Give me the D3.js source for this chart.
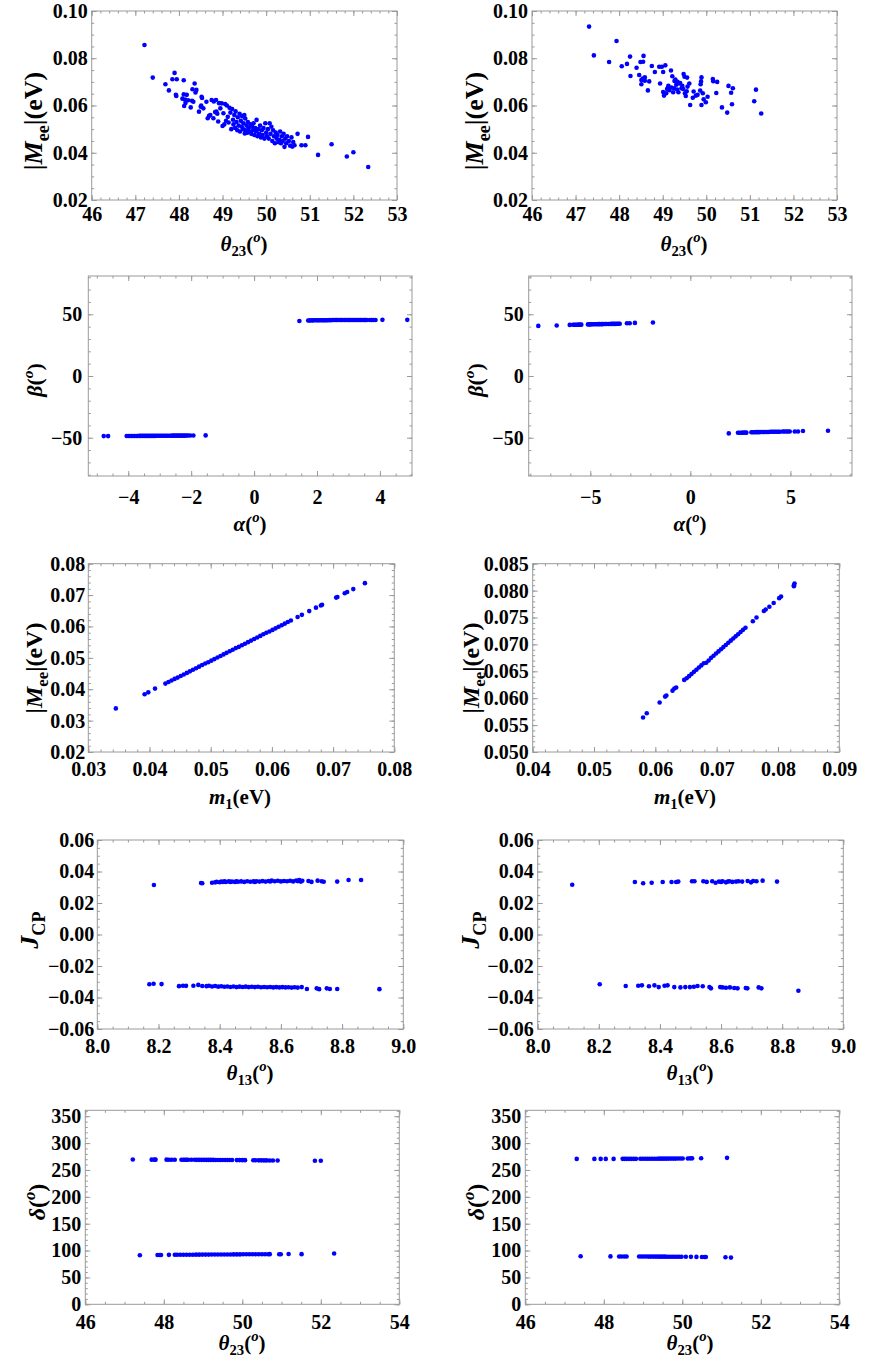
<!DOCTYPE html>
<html><head><meta charset="utf-8">
<script src="https://cdn.jsdelivr.net/npm/d3@7"></script>
<style>
body{margin:0;background:#fff}
svg{display:block}
text{font-family:"Liberation Serif","Times New Roman",serif;font-weight:bold}
</style>
</head><body>
<svg id="c" width="872" height="1360"></svg>
<script>
// ---------------- DATA ----------------
// Panel 1: theta23 vs |Mee| (left)
const p1Points = [[47.21,0.0856],[47.40,0.0718],[47.69,0.0690],[47.77,0.0664],[47.85,0.0711],[47.90,0.0738],[47.95,0.0711],[47.93,0.0645],[47.94,0.0640],
[48.11,0.0707],[48.11,0.0647],[48.08,0.0629],[48.15,0.0611],[48.12,0.0598],[48.18,0.0645],[48.14,0.0625],[48.21,0.0622],
[48.31,0.0669],[48.36,0.0693],[48.40,0.0666],[48.27,0.0592],[48.33,0.0616],[48.30,0.0620],[48.38,0.0655],
[48.46,0.0574],[48.52,0.0637],[48.53,0.0632],[48.50,0.0595],[48.56,0.0588],[48.51,0.0600],[48.63,0.0616],[48.69,0.0556],[48.66,0.0546],[48.72,0.0560],
[48.75,0.0623],[48.85,0.0623],[48.79,0.0546],[48.86,0.0574],[48.90,0.0532],[48.83,0.0572],[48.88,0.0565],[48.80,0.0617],[48.92,0.0610],
[48.98,0.0609],[48.95,0.0588],[49.02,0.0567],[49.00,0.0513],[49.06,0.0606],[49.04,0.0520],[49.08,0.0535],[49.10,0.0600],[49.12,0.0552],[49.14,0.0528],[49.16,0.0590],
[49.18,0.0570],[49.20,0.0500],[49.22,0.0585],[49.24,0.0540],[49.25,0.0520],[49.27,0.0560],[49.29,0.0505],[49.30,0.0575],[49.32,0.0530],[49.34,0.0495],[49.35,0.0550],
[49.37,0.0515],[49.39,0.0565],[49.40,0.0490],[49.42,0.0535],[49.44,0.0510],[49.45,0.0555],[49.47,0.0500],[49.48,0.0525],[49.50,0.0560],[49.51,0.0482],[49.52,0.0545],[49.53,0.0495],
[49.55,0.0515],[49.57,0.0485],[49.58,0.0530],[49.60,0.0505],[49.62,0.0490],[49.64,0.0520],[49.66,0.0480],[49.68,0.0510],[49.70,0.0495],[49.71,0.0525],[49.73,0.0475],[49.75,0.0505],
[49.78,0.0539],[49.77,0.0490],[49.80,0.0470],[49.82,0.0500],[49.84,0.0480],[49.86,0.0515],[49.88,0.0465],[49.90,0.0495],[49.92,0.0475],[49.94,0.0505],[49.96,0.0460],[49.98,0.0525],
[50.00,0.0485],[50.02,0.0470],[50.04,0.0500],[50.06,0.0460],[50.08,0.0525],[50.10,0.0480],[50.12,0.0510],[50.14,0.0450],[50.16,0.0495],[50.18,0.0470],[50.20,0.0440],[50.22,0.0485],
[50.24,0.0460],[50.26,0.0475],[50.28,0.0445],[50.30,0.0455],[50.32,0.0490],[50.34,0.0440],[50.36,0.0470],[50.38,0.0450],[50.40,0.0480],[50.42,0.0425],[50.44,0.0460],[50.46,0.0440],
[50.48,0.0470],[50.52,0.0450],[50.55,0.0430],[50.58,0.0465],[50.60,0.0426],[50.62,0.0445],[50.65,0.0432],[50.72,0.0480],[50.81,0.0432],[50.90,0.0432],[50.96,0.0467],
[51.19,0.0391],[51.50,0.0436],[51.85,0.0384],[52.00,0.0402],[52.34,0.0340]];

// Panel 2: theta23 vs |Mee| (right)
const p2Points = [[47.31,0.0934],[47.42,0.0812],[47.77,0.0784],[47.94,0.0873],[48.06,0.0766],[48.18,0.0776],[48.25,0.0807],[48.26,0.0725],[48.40,0.0760],[48.46,0.0729],
[48.49,0.0784],[48.51,0.0708],[48.51,0.0690],[48.55,0.0785],[48.56,0.0810],[48.54,0.0714],[48.59,0.0719],[48.59,0.0705],[48.69,0.0702],[48.66,0.0664],
[48.75,0.0767],[48.82,0.0742],[48.94,0.0693],[48.92,0.0764],[48.98,0.0764],[49.01,0.0742],[49.06,0.0770],[49.01,0.0657],[49.03,0.0642],[49.08,0.0652],
[49.10,0.0670],[49.13,0.0683],[49.20,0.0676],[49.19,0.0748],[49.22,0.0724],[49.24,0.0656],[49.26,0.0673],[49.27,0.0704],[49.31,0.0688],[49.34,0.0700],
[49.36,0.0656],[49.38,0.0693],[49.43,0.0673],[49.45,0.0683],[49.48,0.0733],[49.50,0.0722],[49.51,0.0652],[49.53,0.0640],[49.56,0.0718],[49.57,0.0680],
[49.61,0.0693],[49.63,0.0602],[49.69,0.0633],[49.71,0.0659],[49.76,0.0642],[49.80,0.0645],[49.86,0.0663],[49.88,0.0702],[49.89,0.0719],[49.87,0.0690],
[49.89,0.0602],[49.92,0.0652],[49.94,0.0626],[49.99,0.0614],[50.03,0.0637],[50.15,0.0712],[50.16,0.0703],[50.25,0.0700],[50.23,0.0653],[50.36,0.0592],
[50.48,0.0570],[50.51,0.0683],[50.57,0.0654],[50.61,0.0673],[50.59,0.0605],[51.10,0.0618],[51.14,0.0667],[51.26,0.0566],
[49.15,0.0665],[49.29,0.0710],[49.40,0.0695],[49.47,0.0670],[49.55,0.0660],[49.12,0.0675],[49.33,0.0668]];

// Panel 3: alpha vs beta (left)
const p3Points = [[1.44,44.6],[1.72,45.0],[1.76,45.0],[1.80,45.1],[1.85,45.0],[1.88,45.1],[1.93,45.1],[1.98,45.1],[2.02,45.1],[2.06,45.2],[2.10,45.1],[2.15,45.2],
[2.19,45.2],[2.23,45.2],[2.27,45.2],[2.31,45.2],[2.36,45.2],[2.40,45.3],[2.44,45.2],[2.48,45.3],[2.53,45.3],[2.57,45.3],[2.61,45.3],[2.65,45.3],[2.70,45.3],
[2.74,45.3],[2.78,45.3],[2.82,45.3],[2.87,45.3],[2.91,45.4],[2.95,45.3],[3.00,45.4],[3.04,45.4],[3.08,45.4],[3.12,45.4],[3.17,45.4],[3.21,45.4],[3.25,45.4],
[3.30,45.4],[3.34,45.4],[3.38,45.4],[3.42,45.4],[3.47,45.4],[3.51,45.4],[3.55,45.4],[3.58,45.4],[3.68,45.4],[3.74,45.4],[3.79,45.4],[3.86,45.4],[4.08,45.5],[4.87,45.5],
[-4.78,-48.7],[-4.64,-48.7],[-4.05,-48.6],[-4.00,-48.6],[-3.95,-48.6],[-3.90,-48.6],[-3.85,-48.6],[-3.80,-48.6],[-3.75,-48.6],[-3.70,-48.6],[-3.65,-48.5],
[-3.60,-48.5],[-3.55,-48.5],[-3.50,-48.5],[-3.45,-48.5],[-3.40,-48.5],[-3.35,-48.5],[-3.30,-48.5],[-3.25,-48.5],[-3.20,-48.5],[-3.15,-48.5],[-3.10,-48.4],
[-3.05,-48.4],[-3.00,-48.4],[-2.95,-48.4],[-2.90,-48.4],[-2.85,-48.4],[-2.80,-48.4],[-2.75,-48.4],[-2.70,-48.4],[-2.65,-48.4],[-2.60,-48.3],[-2.55,-48.3],
[-2.50,-48.3],[-2.45,-48.3],[-2.40,-48.3],[-2.35,-48.3],[-2.30,-48.3],[-2.25,-48.3],[-2.20,-48.3],[-2.15,-48.2],[-2.10,-48.2],[-2.03,-48.2],[-1.93,-48.2],[-1.54,-48.1]];

// Panel 4: alpha vs beta (right)
const p4Points = [[-7.60,40.6],[-6.68,40.9],[-6.03,41.4],[-5.87,41.5],[-5.80,41.5],[-5.74,41.5],[-5.67,41.5],[-5.60,41.6],[-5.52,41.6],[-5.45,41.6],
[-5.12,41.8],[-5.05,41.8],[-4.98,41.8],[-4.90,41.9],[-4.83,41.9],[-4.76,41.9],[-4.68,41.9],[-4.61,42.0],[-4.54,42.0],[-4.46,42.0],[-4.39,42.0],[-4.31,42.1],
[-4.24,42.1],[-4.17,42.1],[-4.09,42.1],[-4.02,42.1],[-3.95,42.2],[-3.87,42.2],[-3.80,42.2],[-3.72,42.2],[-3.65,42.3],[-3.58,42.3],[-3.53,42.3],
[-3.17,42.7],[-3.03,42.7],[-2.77,43.0],[-1.87,43.3],
[1.92,-46.5],[2.38,-46.0],[2.46,-46.0],[2.55,-46.0],[2.63,-45.9],[2.72,-45.9],[2.80,-45.9],[3.05,-45.6],[3.12,-45.6],[3.20,-45.6],[3.28,-45.5],[3.36,-45.5],
[3.44,-45.5],[3.52,-45.4],[3.60,-45.4],[3.68,-45.4],[3.76,-45.3],[3.84,-45.3],[3.92,-45.3],[4.00,-45.2],[4.08,-45.2],[4.16,-45.2],[4.24,-45.2],[4.32,-45.1],
[4.40,-45.1],[4.48,-45.1],[4.62,-45.0],[4.70,-45.0],[4.80,-45.0],[4.88,-45.0],[4.97,-44.9],[5.22,-44.9],[5.38,-44.9],[5.63,-44.6],[6.88,-44.4]];

// Panel 5: m1 vs |Mee| (left)
const p5Points = [[0.0345,0.0339],[0.0392,0.0384],[0.0398,0.0390],[0.0409,0.0402],
[0.0426,0.0418],[0.0431,0.0423],[0.0436,0.0428],[0.0441,0.0433],[0.0446,0.0437],[0.0451,0.0442],[0.0456,0.0447],[0.0461,0.0452],[0.0466,0.0457],
[0.0471,0.0462],[0.0476,0.0467],[0.0481,0.0472],[0.0486,0.0477],[0.0491,0.0482],[0.0496,0.0486],[0.0501,0.0491],[0.0506,0.0496],[0.0511,0.0501],
[0.0516,0.0506],[0.0521,0.0511],[0.0526,0.0516],[0.0531,0.0521],[0.0536,0.0526],[0.0541,0.0531],[0.0546,0.0535],[0.0551,0.0540],[0.0556,0.0545],
[0.0561,0.0550],[0.0566,0.0555],[0.0571,0.0560],[0.0576,0.0565],[0.0581,0.0570],[0.0586,0.0575],[0.0591,0.0580],[0.0596,0.0584],[0.0601,0.0589],
[0.0606,0.0594],[0.0611,0.0599],[0.0616,0.0604],[0.0621,0.0609],[0.0626,0.0614],[0.0631,0.0619],
[0.0642,0.0630],[0.0649,0.0637],[0.0661,0.0649],[0.0672,0.0660],[0.0680,0.0667],[0.0682,0.0669],[0.0705,0.0692],[0.0707,0.0694],
[0.0719,0.0706],[0.0723,0.0710],[0.0733,0.0719],[0.0752,0.0738]];

// Panel 6: m1 vs |Mee| (right)
const p6Points = [[0.0580,0.0564],[0.0586,0.0572],[0.0607,0.0592],[0.0616,0.0603],[0.0618,0.0605],[0.0628,0.0614],[0.0631,0.0618],[0.0634,0.0620],
[0.0647,0.0634],[0.0651,0.0637],[0.0655,0.0641],[0.0659,0.0645],[0.0663,0.0649],[0.0667,0.0653],[0.0671,0.0657],[0.0675,0.0661],[0.0679,0.0665],
[0.0683,0.0666],[0.0687,0.0670],[0.0691,0.0675],[0.0695,0.0679],[0.0699,0.0683],[0.0703,0.0687],[0.0707,0.0691],[0.0711,0.0695],[0.0715,0.0699],
[0.0719,0.0703],[0.0723,0.0707],[0.0727,0.0711],[0.0731,0.0715],[0.0735,0.0719],[0.0739,0.0723],[0.0743,0.0727],[0.0747,0.0731],
[0.0759,0.0743],[0.0765,0.0750],[0.0777,0.0762],[0.0780,0.0765],[0.0786,0.0770],[0.0793,0.0777],[0.0802,0.0786],[0.0805,0.0789],
[0.0826,0.0810],[0.0827,0.0813],[0.0826,0.0808]];

// Panel 7: theta13 vs Jcp (left)
const p7Points = [[8.185,0.0314],[8.339,0.0327],[8.343,0.0325],[8.375,0.0329],[8.385,0.0331],[8.390,0.0334],[8.400,0.0332],[8.405,0.0336],[8.410,0.0333],
[8.415,0.0338],[8.420,0.0334],[8.430,0.0337],[8.435,0.0333],[8.440,0.0336],[8.450,0.0334],[8.455,0.0338],[8.460,0.0335],[8.470,0.0337],[8.480,0.0334],
[8.490,0.0338],[8.500,0.0335],[8.510,0.0337],[8.515,0.0334],[8.520,0.0338],[8.530,0.0336],[8.540,0.0339],[8.550,0.0336],[8.560,0.0340],[8.565,0.0337],
[8.570,0.0342],[8.580,0.0338],[8.590,0.0341],[8.600,0.0337],[8.610,0.0340],[8.620,0.0338],[8.630,0.0341],[8.640,0.0337],[8.650,0.0343],[8.655,0.0339],
[8.660,0.0345],[8.665,0.0336],[8.670,0.0341],[8.690,0.0340],[8.700,0.0334],[8.720,0.0342],[8.733,0.0338],[8.740,0.0335],[8.784,0.0336],[8.821,0.0346],[8.862,0.0346],
[8.170,-0.0316],[8.184,-0.0313],[8.210,-0.0315],[8.267,-0.0328],[8.280,-0.0325],[8.290,-0.0326],[8.314,-0.0325],[8.330,-0.0320],[8.343,-0.0327],
[8.357,-0.0328],[8.365,-0.0325],[8.375,-0.0330],[8.385,-0.0327],[8.395,-0.0331],[8.405,-0.0329],[8.415,-0.0332],[8.425,-0.0330],[8.435,-0.0333],
[8.445,-0.0330],[8.455,-0.0334],[8.465,-0.0331],[8.475,-0.0333],[8.485,-0.0331],[8.495,-0.0334],[8.505,-0.0332],[8.515,-0.0334],[8.525,-0.0332],
[8.535,-0.0335],[8.545,-0.0333],[8.555,-0.0335],[8.565,-0.0333],[8.575,-0.0336],[8.585,-0.0334],[8.595,-0.0336],[8.605,-0.0334],[8.615,-0.0336],
[8.625,-0.0335],[8.635,-0.0337],[8.645,-0.0335],[8.655,-0.0337],[8.668,-0.0334],[8.685,-0.0346],[8.717,-0.0342],[8.725,-0.0347],[8.750,-0.0342],
[8.760,-0.0346],[8.784,-0.0346],[8.922,-0.0347]];

// Panel 8: theta13 vs Jcp (right)
const p8Points = [[8.113,0.0316],[8.318,0.0333],[8.345,0.0325],[8.373,0.0329],[8.409,0.0333],[8.438,0.0333],[8.453,0.0333],[8.460,0.0336],[8.505,0.0338],
[8.513,0.0338],[8.542,0.0338],[8.553,0.0334],[8.571,0.0338],[8.582,0.0329],[8.593,0.0336],[8.600,0.0334],[8.605,0.0338],[8.616,0.0331],[8.622,0.0336],
[8.627,0.0338],[8.637,0.0334],[8.649,0.0336],[8.657,0.0338],[8.669,0.0336],[8.687,0.0340],[8.698,0.0331],[8.705,0.0340],[8.716,0.0338],[8.736,0.0342],[8.783,0.0336],
[8.203,-0.0316],[8.288,-0.0327],[8.329,-0.0325],[8.341,-0.0323],[8.364,-0.0329],[8.382,-0.0323],[8.396,-0.0334],[8.415,-0.0325],[8.425,-0.0323],
[8.447,-0.0334],[8.467,-0.0336],[8.483,-0.0334],[8.498,-0.0334],[8.511,-0.0332],[8.523,-0.0327],[8.540,-0.0329],[8.562,-0.0334],[8.567,-0.0342],
[8.597,-0.0334],[8.605,-0.0336],[8.616,-0.0338],[8.629,-0.0336],[8.643,-0.0340],[8.654,-0.0342],[8.681,-0.0340],[8.686,-0.0342],[8.723,-0.0336],
[8.732,-0.0342],[8.853,-0.0357]];

// Panel 9: theta23 vs delta (left)
const p9Points = [[47.21,269.5],[47.69,269.2],[47.76,269.2],[47.79,269.2],[48.07,269.2],[48.13,269.1],[48.20,269.1],[48.28,269.1],[48.45,269.0],
[48.50,269.0],[48.54,269.0],[48.58,269.0],[48.62,268.9],[48.70,268.9],[48.78,268.9],[48.84,268.8],[48.90,268.8],[48.96,268.8],[49.02,268.8],
[49.08,268.7],[49.14,268.7],[49.20,268.7],[49.26,268.7],[49.32,268.6],[49.38,268.6],[49.44,268.6],[49.50,268.5],[49.56,268.5],[49.62,268.5],
[49.68,268.4],[49.74,268.4],[49.86,268.3],[49.93,268.3],[50.00,268.2],[50.07,268.2],[50.28,268.0],[50.34,268.0],[50.42,267.9],[50.48,267.9],
[50.55,267.8],[50.62,267.8],[50.70,267.7],[50.78,267.6],[50.90,267.5],[51.85,267.0],[52.00,267.0],
[47.39,91.2],[47.84,91.8],[47.90,91.8],[47.93,91.8],[48.13,92.0],[48.28,92.1],[48.34,92.1],[48.42,92.2],[48.50,92.2],[48.58,92.3],[48.66,92.3],
[48.74,92.3],[48.82,92.4],[48.90,92.4],[48.98,92.5],[49.06,92.5],[49.14,92.5],[49.22,92.6],[49.30,92.6],[49.38,92.7],[49.46,92.7],[49.54,92.7],
[49.62,92.8],[49.70,92.8],[49.78,92.9],[49.86,92.9],[49.94,92.9],[50.02,93.0],[50.10,93.0],[50.18,93.0],[50.26,93.1],[50.34,93.1],[50.42,93.1],
[50.50,93.2],[50.58,93.2],[50.66,93.2],[50.70,93.3],[50.94,93.1],[50.98,93.1],[51.18,93.5],[51.51,93.3],[52.34,94.5]];

// Panel 10: theta23 vs delta (right)
const p10Points = [[47.31,270.6],[47.76,270.6],[47.92,270.6],[48.05,270.6],[48.25,270.6],[48.48,270.7],[48.53,270.7],[48.58,270.7],[48.64,270.7],
[48.70,270.7],[48.76,270.7],[48.82,270.7],[48.93,270.8],[48.99,270.8],[49.05,270.8],[49.11,270.8],[49.17,270.9],[49.23,270.9],[49.29,270.9],
[49.35,270.9],[49.41,271.0],[49.47,271.0],[49.53,271.0],[49.59,271.0],[49.65,271.1],[49.71,271.1],[49.77,271.1],[49.83,271.1],[49.89,271.2],
[49.95,271.2],[50.01,271.2],[50.14,271.4],[50.20,271.6],[50.25,271.6],[50.48,271.8],[51.14,272.5],
[47.41,89.4],[48.17,89.1],[48.39,89.0],[48.45,89.0],[48.52,89.0],[48.58,89.0],[48.90,88.9],[48.96,88.9],[49.02,88.9],[49.08,88.9],[49.14,88.8],
[49.20,88.8],[49.26,88.8],[49.32,88.8],[49.38,88.7],[49.44,88.7],[49.50,88.7],[49.56,88.7],[49.62,88.6],[49.68,88.6],[49.74,88.6],[49.80,88.6],
[49.86,88.5],[49.92,88.5],[49.98,88.5],[50.09,88.4],[50.22,88.3],[50.36,88.2],[50.50,88.1],[50.57,88.0],[50.60,88.0],[51.10,87.5],[51.24,86.9]];

// Tick values and labels
const tTheta23aTicks = [46,47,48,49,50,51,52,53];
const tTheta23aLabels = ["46","47","48","49","50","51","52","53"];
const tMeeATicks = [0.02,0.04,0.06,0.08,0.10];
const tMeeALabels = ["0.02","0.04","0.06","0.08","0.10"];
const tAlphaLTicks = [-4,-2,0,2,4];
const tAlphaLLabels = ["\u22124","\u22122","0","2","4"];
const tAlphaRTicks = [-5,0,5];
const tAlphaRLabels = ["\u22125","0","5"];
const tBetaTicks = [-50,0,50];
const tBetaLabels = ["\u221250","0","50"];
const tM1LTicks = [0.03,0.04,0.05,0.06,0.07,0.08];
const tM1LLabels = ["0.03","0.04","0.05","0.06","0.07","0.08"];
const tMeeLTicks = [0.02,0.03,0.04,0.05,0.06,0.07,0.08];
const tMeeLLabels = ["0.02","0.03","0.04","0.05","0.06","0.07","0.08"];
const tM1RTicks = [0.04,0.05,0.06,0.07,0.08,0.09];
const tM1RLabels = ["0.04","0.05","0.06","0.07","0.08","0.09"];
const tMeeRTicks = [0.050,0.055,0.060,0.065,0.070,0.075,0.080,0.085];
const tMeeRLabels = ["0.050","0.055","0.060","0.065","0.070","0.075","0.080","0.085"];
const tTheta13Ticks = [8.0,8.2,8.4,8.6,8.8,9.0];
const tTheta13Labels = ["8.0","8.2","8.4","8.6","8.8","9.0"];
const tJcpTicks = [-0.06,-0.04,-0.02,0,0.02,0.04,0.06];
const tJcpLabels = ["\u22120.06","\u22120.04","\u22120.02","0.00","0.02","0.04","0.06"];
const tTheta23bTicks = [46,48,50,52,54];
const tTheta23bLabels = ["46","48","50","52","54"];
const tDeltaTicks = [0,50,100,150,200,250,300,350];
const tDeltaLabels = ["0","50","100","150","200","250","300","350"];

// Axis titles (rich text segments)
const lMee = [{t:"|"},{t:"M",i:1},{t:"ee",s:"sub"},{t:"|(eV)"}];
const lTh23 = [{t:"\u03B8",i:1},{t:"23",s:"sub"},{t:"("},{t:"o",s:"sup",i:1},{t:")"}];
const lTh13 = [{t:"\u03B8",i:1},{t:"13",s:"sub"},{t:"("},{t:"o",s:"sup",i:1},{t:")"}];
const lAlpha = [{t:"\u03B1",i:1},{t:"("},{t:"o",s:"sup",i:1},{t:")"}];
const lBeta = [{t:"\u03B2",i:1},{t:"("},{t:"o",s:"sup",i:1},{t:")"}];
const lDelta = [{t:"\u03B4",i:1},{t:"("},{t:"o",s:"sup",i:1},{t:")"}];
const lM1 = [{t:"m",i:1},{t:"1",s:"sub"},{t:"(eV)"}];
const lJcp = [{t:"J",i:1},{t:"CP",s:"sub"}];

// ---------------- LAYOUT ----------------
const panels = [
 {pts:p1Points, l:91.7,r:397,t:11,b:200, xd:[46,53], yd:[0.02,0.10], xt:tTheta23aTicks, xl:tTheta23aLabels, xm:0.2, yt:tMeeATicks, yl:tMeeALabels, ym:0.005, xpad:7, ypad:4, xlab:lTh23, ylab:lMee, ylf:26, xlx:244, xly:251, ylx:34, yly:121},
 {pts:p2Points, l:532,r:837,t:11,b:200, xd:[46,53], yd:[0.02,0.10], xt:tTheta23aTicks, xl:tTheta23aLabels, xm:0.2, yt:tMeeATicks, yl:tMeeALabels, ym:0.005, xpad:7, ypad:4, xlab:lTh23, ylab:lMee, ylf:26, xlx:684, xly:251, ylx:475, yly:121},
 {pts:p3Points, l:88.3,r:412,t:276,b:476, xd:[-5.27,5.02], yd:[-81,81], xt:tAlphaLTicks, xl:tAlphaLLabels, xm:0.5, yt:tBetaTicks, yl:tBetaLabels, ym:10, xpad:14, ypad:6, xlab:lAlpha, ylab:lBeta, ylf:22, xlx:250, xly:531, ylx:35, yly:380},
 {pts:p4Points, l:528.7,r:852,t:276,b:476, xd:[-8.08,8.08], yd:[-81,81], xt:tAlphaRTicks, xl:tAlphaRLabels, xm:1, yt:tBetaTicks, yl:tBetaLabels, ym:10, xpad:14, ypad:5, xlab:lAlpha, ylab:lBeta, ylf:22, xlx:690, xly:531, ylx:476, yly:380},
 {pts:p5Points, l:88.3,r:394.3,t:563.7,b:752, xd:[0.03,0.08], yd:[0.02,0.08], xt:tM1LTicks, xl:tM1LLabels, xm:0.002, yt:tMeeLTicks, yl:tMeeLLabels, ym:0.002, xpad:9.5, ypad:3, xlab:lM1, ylab:lMee, ylf:24, xlx:240, xly:804, ylx:34, yly:668},
 {pts:p6Points, l:532.7,r:839.3,t:563.7,b:752, xd:[0.04,0.09], yd:[0.050,0.085], xt:tM1RTicks, xl:tM1RLabels, xm:0.002, yt:tMeeRTicks, yl:tMeeRLabels, ym:0.001, xpad:9.5, ypad:4, xlab:lM1, ylab:lMee, ylf:24, xlx:685, xly:804, ylx:471, yly:668},
 {pts:p7Points, l:97.3,r:403.3,t:840,b:1029, xd:[8.0,9.0], yd:[-0.06,0.06], xt:tTheta13Ticks, xl:tTheta13Labels, xm:0.05, yt:tJcpTicks, yl:tJcpLabels, ym:0.005, xpad:9.5, ypad:3, xlab:lTh13, ylab:lJcp, ylf:26, xlx:250, xly:1080, ylx:30, yly:930},
 {pts:p8Points, l:537.7,r:843.3,t:840,b:1029, xd:[8.0,9.0], yd:[-0.06,0.06], xt:tTheta13Ticks, xl:tTheta13Labels, xm:0.05, yt:tJcpTicks, yl:tJcpLabels, ym:0.005, xpad:9.5, ypad:4, xlab:lTh13, ylab:lJcp, ylf:26, xlx:690, xly:1080, ylx:471, yly:930},
 {pts:p9Points, l:85.3,r:399.3,t:1110.3,b:1304.3, xd:[46,54], yd:[0,361], xt:tTheta23bTicks, xl:tTheta23bLabels, xm:0.5, yt:tDeltaTicks, yl:tDeltaLabels, ym:10, xpad:11, ypad:4, xlab:lTh23, ylab:lDelta, ylf:24, xlx:242, xly:1350, ylx:37, yly:1202},
 {pts:p10Points, l:525.3,r:839.3,t:1110.3,b:1304.3, xd:[46,54], yd:[0,361], xt:tTheta23bTicks, xl:tTheta23bLabels, xm:0.5, yt:tDeltaTicks, yl:tDeltaLabels, ym:10, xpad:11, ypad:4, xlab:lTh23, ylab:lDelta, ylf:24, xlx:690, xly:1350, ylx:476, yly:1202}
];

const svg = d3.select("#c");
svg.append("rect").attr("width",872).attr("height",1360).attr("fill","#fff");
const FRAME = "#9a9a9a";
const TICKF = 20, LABF = 21;

function minorVals(dom, step){
  const lo = Math.min(dom[0],dom[1]), hi = Math.max(dom[0],dom[1]);
  const out = [];
  for (let k = Math.ceil(lo/step - 1e-6); k*step <= hi + 1e-9; k++) out.push(+(k*step).toFixed(8));
  return out;
}

function rich(sel, segs, size){
  let shift = 0;
  segs.forEach(s => {
    const target = s.s === "sub" ? size*0.25 : s.s === "sup" ? -size*0.42 : 0;
    const ts = sel.append("tspan").text(s.t).attr("dy", (target - shift).toFixed(2));
    shift = target;
    if (s.s) ts.attr("font-size", (size*0.7).toFixed(1));
    if (s.i) ts.attr("font-style","italic");
  });
}

function styleAxis(g, showText){
  g.select(".domain").remove();
  g.selectAll("line").attr("stroke", FRAME).attr("stroke-width", 1);
  g.attr("font-size", TICKF).attr("font-family", '"Liberation Serif","Times New Roman",serif').attr("font-weight","bold");
  g.selectAll("text").attr("fill", "#000");
  if (!showText) g.selectAll("text").remove();
}

panels.forEach(p => {
  const x = d3.scaleLinear().domain(p.xd).range([p.l, p.r]);
  const y = d3.scaleLinear().domain(p.yd).range([p.b, p.t]);
  const g = svg.append("g");

  // points
  g.append("g").selectAll("circle").data(p.pts).join("circle")
    .attr("cx", d => x(d[0])).attr("cy", d => y(d[1])).attr("r", 2.3).attr("fill", "#0000ff");

  const xMin = minorVals(p.xd, p.xm), yMin = minorVals(p.yd, p.ym);
  // bottom
  g.append("g").attr("transform",`translate(0,${p.b})`)
    .call(d3.axisBottom(x).tickValues(xMin).tickSize(-2.5).tickSizeOuter(0).tickFormat(""))
    .call(a => styleAxis(a,false));
  g.append("g").attr("transform",`translate(0,${p.b})`)
    .call(d3.axisBottom(x).tickValues(p.xt).tickSize(-5).tickSizeOuter(0).tickPadding(p.xpad).tickFormat((d,i)=>p.xl[i]))
    .call(a => styleAxis(a,true));
  // top
  g.append("g").attr("transform",`translate(0,${p.t})`)
    .call(d3.axisTop(x).tickValues(xMin).tickSize(-2.5).tickSizeOuter(0).tickFormat(""))
    .call(a => styleAxis(a,false));
  g.append("g").attr("transform",`translate(0,${p.t})`)
    .call(d3.axisTop(x).tickValues(p.xt).tickSize(-5).tickSizeOuter(0).tickFormat(""))
    .call(a => styleAxis(a,false));
  // left
  g.append("g").attr("transform",`translate(${p.l},0)`)
    .call(d3.axisLeft(y).tickValues(yMin).tickSize(-2.5).tickSizeOuter(0).tickFormat(""))
    .call(a => styleAxis(a,false));
  g.append("g").attr("transform",`translate(${p.l},0)`)
    .call(d3.axisLeft(y).tickValues(p.yt).tickSize(-5).tickSizeOuter(0).tickPadding(p.ypad).tickFormat((d,i)=>p.yl[i]))
    .call(a => styleAxis(a,true));
  // right
  g.append("g").attr("transform",`translate(${p.r},0)`)
    .call(d3.axisRight(y).tickValues(yMin).tickSize(-2.5).tickSizeOuter(0).tickFormat(""))
    .call(a => styleAxis(a,false));
  g.append("g").attr("transform",`translate(${p.r},0)`)
    .call(d3.axisRight(y).tickValues(p.yt).tickSize(-5).tickSizeOuter(0).tickFormat(""))
    .call(a => styleAxis(a,false));

  // frame
  g.append("rect").attr("x",p.l).attr("y",p.t).attr("width",p.r-p.l).attr("height",p.b-p.t)
    .attr("fill","none").attr("stroke",FRAME).attr("stroke-width",1);

  // axis titles (xly = baseline)
  const xt = g.append("text").attr("x",p.xlx).attr("y",p.xly).attr("text-anchor","middle")
    .attr("font-size",LABF).attr("fill","#000");
  rich(xt, p.xlab, LABF);
  const yt = g.append("text").attr("transform",`translate(${p.ylx+p.ylf*0.32},${p.yly}) rotate(-90)`)
    .attr("text-anchor","middle").attr("font-size",p.ylf).attr("fill","#000");
  rich(yt, p.ylab, p.ylf);
});
</script>
</body></html>
